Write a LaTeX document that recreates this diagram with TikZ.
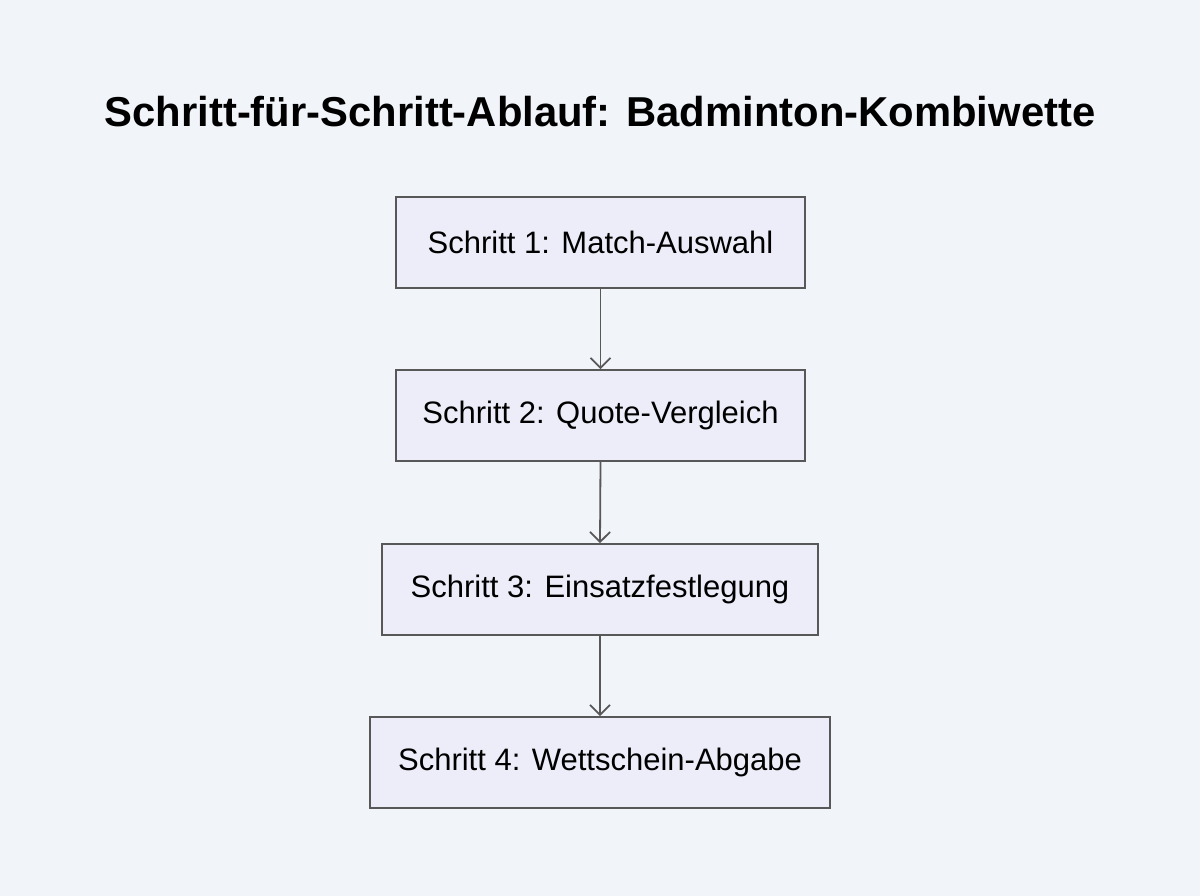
\documentclass[tikz,border=0pt]{standalone}
\usepackage{fontspec}
\setmainfont{Liberation Sans}
\usetikzlibrary{arrows.meta}
\definecolor{bg}{HTML}{F1F4F9}
\definecolor{boxfill}{HTML}{ECEDF8}
\definecolor{boxline}{HTML}{585858}
\tikzset{
  stepbox/.style={draw=boxline, fill=boxfill, line width=1.6pt, minimum height=91pt, inner sep=0pt, font=\fontsize{31}{36}\selectfont, text=black},
  conn/.style={draw=boxline, line width=1.8pt, -{Straight Barb[length=10pt,width=20pt,line width=1.8pt]}}
}
\begin{document}
\begin{tikzpicture}[x=1pt,y=-1pt]
\fill[bg] (0,0) rectangle (1200,896);
\useasboundingbox (0,0) rectangle (1200,896);
\node[font=\bfseries\fontsize{41.8}{50}\selectfont, text=black] (title) at (600,112) {Schritt-für-Schritt-Ablauf: Badminton-Kombiwette};
\node[stepbox, minimum width=409pt] (s1) at (600.5,242.5) {Schritt 1: Match-Auswahl};
\node[stepbox, minimum width=409pt] (s2) at (600.5,415.5) {Schritt 2: Quote-Vergleich};
\node[stepbox, minimum width=436pt] (s3) at (600,589.5) {Schritt 3: Einsatzfestlegung};
\node[stepbox, minimum width=460pt] (s4) at (600,762.5) {Schritt 4: Wettschein-Abgabe};
\draw[conn] (s1.south) -- (s2.north);
\draw[conn] (s2.south) -- (s3.north);
\draw[conn] (s3.south) -- (s4.north);
\end{tikzpicture}
\end{document}
